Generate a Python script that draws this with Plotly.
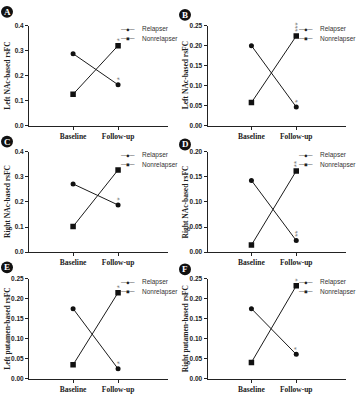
import plotly.graph_objects as go

categories = ["Baseline", "Follow-up"]
panel_letters = ["A", "B", "C", "D", "E", "F"]
y_titles = ["Left NAc-based rsFC", "Left NAc-based rsFC", "Right NAc-based rsFC",
            "Right NAc-based rsFC", "Left putamen-based rsFC", "Right putamen-based rsFC"]
relapser = [[0.288, 0.164], [0.200, 0.047], [0.272, 0.188],
            [0.143, 0.023], [0.175, 0.025], [0.175, 0.061]]
nonrelapser = [[0.126, 0.320], [0.058, 0.224], [0.102, 0.328],
               [0.014, 0.162], [0.035, 0.215], [0.041, 0.232]]
relapser_sig = ["*", "*", "*", "**", "*", "*"]
nonrelapser_sig = ["*", "***", "", "**", "*", "*"]
y_max = [0.4, 0.25, 0.4, 0.2, 0.25, 0.25]
y_dtick = [0.1, 0.05, 0.1, 0.05, 0.05, 0.05]
y_fmt = [".1f", ".2f", ".1f", ".2f", ".2f", ".2f"]
series_names = ["Relapser", "Nonrelapser"]

W, H = 358, 400
col_x = [(29, 168), (207.5, 346)]
row_y = [(22, 124), (150.5, 252.5), (279.5, 381.5)]
letter_pos = [(7, 8), (185, 11), (7, 140), (185, 143), (7, 268), (185, 270)]
title_x = [8, 185.5]

fig = go.Figure()
layout = dict(width=W, height=H, autosize=False, margin=dict(l=0, r=0, t=0, b=0),
              paper_bgcolor="white", plot_bgcolor="white", showlegend=False)
annotations = []
shapes = []

sans = "Liberation Sans, Arial, sans-serif"
serif = "Liberation Serif, Times New Roman, serif"

for i in range(6):
    n = "" if i == 0 else str(i + 1)
    col = i % 2
    row = i // 2
    x0, x1 = col_x[col]
    ytop, ybot = row_y[row]
    xa = "x" + n
    ya = "y" + n
    for vals, sym, size, name in [(relapser[i], "circle", 5, series_names[0]),
                                  (nonrelapser[i], "square", 5.5, series_names[1])]:
        fig.add_trace(go.Scatter(x=categories, y=vals, mode="lines+markers", name=name,
                                 xaxis=xa, yaxis=ya,
                                 line=dict(color="#1a1a1a", width=1),
                                 marker=dict(symbol=sym, size=size, color="#111")))
    layout["xaxis" + n] = dict(domain=[x0 / W, x1 / W], anchor=ya, type="category",
                               range=[-0.98, 2.11], showline=True, linecolor="#222",
                               linewidth=1, ticks="outside", ticklen=3, tickcolor="#222",
                               showgrid=False, zeroline=False, fixedrange=True,
                               tickfont=dict(family=serif, size=7.5, color="#222", weight="bold"))
    layout["yaxis" + n] = dict(domain=[1 - ybot / H, 1 - ytop / H], anchor=xa,
                               range=[0, y_max[i]], dtick=y_dtick[i], tick0=0,
                               tickformat=y_fmt[i], showline=True, linecolor="#222",
                               linewidth=1, ticks="outside", ticklen=3, tickcolor="#222",
                               showgrid=False, zeroline=False, fixedrange=True,
                               tickfont=dict(family=sans, size=6.5, color="#222", weight="bold"))
    # y-axis title
    annotations.append(dict(text=y_titles[i], textangle=-90, xref="paper", yref=ya + " domain",
                            x=title_x[col] / W, y=0.5, xanchor="center", yanchor="middle",
                            showarrow=False,
                            font=dict(family=serif, size=7.5, color="#222", weight="bold")))
    # legend (manual)
    for k, (glyph, label) in enumerate([("──●──", series_names[0]), ("──■──", series_names[1])]):
        yy = 0.965 - k * 0.095
        annotations.append(dict(text=glyph, xref=xa + " domain", yref=ya + " domain",
                            x=0.71, y=yy, xanchor="center", yanchor="middle", showarrow=False,
                            font=dict(family="DejaVu Sans Mono", size=4.5, color="#222")))
        annotations.append(dict(text=label, xref=xa + " domain", yref=ya + " domain",
                                x=0.795, y=yy, xanchor="left", yanchor="middle", showarrow=False,
                                font=dict(family=sans, size=6.5, color="#333")))
    # significance marks
    for vals, sig in [(relapser[i], relapser_sig[i]), (nonrelapser[i], nonrelapser_sig[i])]:
        if sig:
            annotations.append(dict(text=sig, x=categories[1], y=vals[1], xref=xa, yref=ya,
                                    textangle=-90, xanchor="center", yanchor="bottom",
                                    yshift=2, xshift=1, showarrow=False,
                                    font=dict(family=sans, size=8, color="#777")))
    # panel letter badge
    cx, cy = letter_pos[i]
    shapes.append(dict(type="circle", xref="paper", yref="paper",
                       x0=(cx - 6) / W, x1=(cx + 6) / W, y0=1 - (cy + 6) / H, y1=1 - (cy - 6) / H,
                       fillcolor="#111", line=dict(color="#111", width=0)))
    annotations.append(dict(text=panel_letters[i], xref="paper", yref="paper",
                            x=cx / W, y=1 - cy / H, xanchor="center", yanchor="middle",
                            showarrow=False,
                            font=dict(family=serif, size=9, color="white", weight="bold")))

layout["annotations"] = annotations
layout["shapes"] = shapes
fig.update_layout(**layout)
fig.write_html("out.html", config={"displayModeBar": False},
               post_script="document.body.style.margin='0';document.body.style.padding='0';")
